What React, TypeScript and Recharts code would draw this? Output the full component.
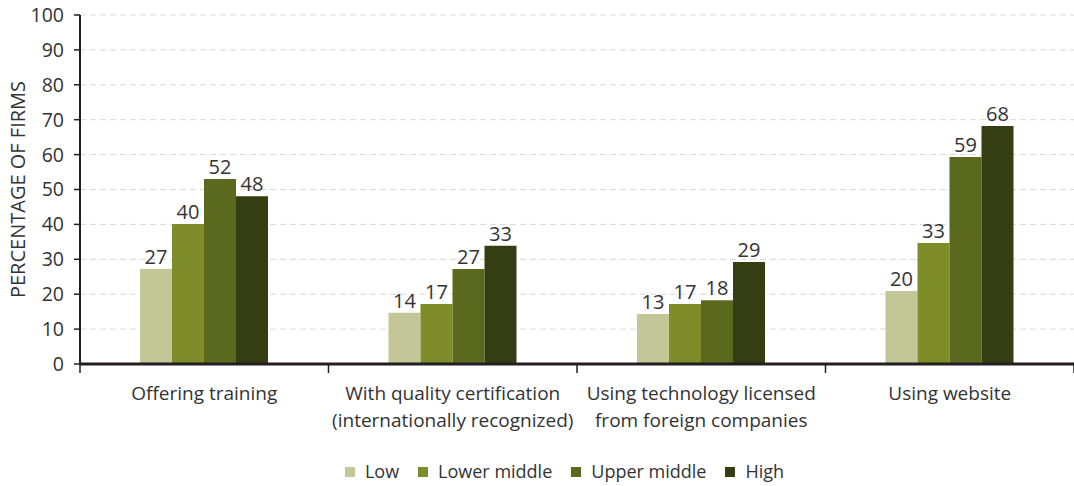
import { BarChart, Bar, XAxis, YAxis, CartesianGrid, Legend, LabelList, Label } from "recharts";

const categories = [
  "Offering training",
  "With quality certification\n(internationally recognized)",
  "Using technology licensed\nfrom foreign companies",
  "Using website",
];

// bar heights as drawn, and the printed labels
const low = [27.2, 14.7, 14.3, 20.9];
const lowerMiddle = [40.1, 17.2, 17.2, 34.7];
const upperMiddle = [53.0, 27.2, 18.3, 59.3];
const high = [48.1, 33.9, 29.2, 68.2];

const lowLabels = [27, 14, 13, 20];
const lowerMiddleLabels = [40, 17, 17, 33];
const upperMiddleLabels = [52, 27, 18, 59];
const highLabels = [48, 33, 29, 68];

const yTicks = [0, 10, 20, 30, 40, 50, 60, 70, 80, 90, 100];

const series = [
  { key: "low", name: "Low", color: "#c3c697" },
  { key: "lowerMiddle", name: "Lower middle", color: "#7e8c29" },
  { key: "upperMiddle", name: "Upper middle", color: "#5b691e" },
  { key: "high", name: "High", color: "#353e12" },
];

const data = categories.map((name, i) => ({
  name,
  low: low[i],
  lowerMiddle: lowerMiddle[i],
  upperMiddle: upperMiddle[i],
  high: high[i],
  lowLabel: lowLabels[i],
  lowerMiddleLabel: lowerMiddleLabels[i],
  upperMiddleLabel: upperMiddleLabels[i],
  highLabel: highLabels[i],
}));

const FONT = "'Open Sans', sans-serif";
const WIDTH = 1074;
const HEIGHT = 486;
const LEFT = 80;
const BAND = (WIDTH - LEFT) / categories.length;

function CategoryTick(props: any) {
  const { x, y, payload, index } = props;
  const lines = String(payload.value).split("\n");
  return (
    <g>
      <line x1={x - BAND / 2} x2={x - BAND / 2} y1={y - 8} y2={y + 1} stroke="#231f20" strokeWidth={1.5} />
      {index === categories.length - 1 && (
        <line x1={x + BAND / 2} x2={x + BAND / 2} y1={y - 8} y2={y + 1} stroke="#231f20" strokeWidth={1.5} />
      )}
      <text x={x} y={y + 28} textAnchor="middle" fill="#333" fontSize={19} fontFamily={FONT}>
        {lines.map((l, i) => (
          <tspan key={i} x={x} dy={i === 0 ? 0 : 27}>
            {l}
          </tspan>
        ))}
      </text>
    </g>
  );
}

function LegendContent() {
  return (
    <div style={{ display: "flex", justifyContent: "center", fontFamily: FONT, fontSize: 18, color: "#333", lineHeight: "23px" }}>
      {series.map((s) => (
        <div key={s.key} style={{ display: "flex", alignItems: "center", marginRight: 19 }}>
          <span style={{ width: 10, height: 10, background: s.color, display: "inline-block", marginRight: 10 }} />
          <span>{s.name}</span>
        </div>
      ))}
    </div>
  );
}

export default function App() {
  return (
    <div style={{ position: "absolute", left: 0, top: 0, background: "#fff" }}>
      <BarChart
        width={WIDTH}
        height={HEIGHT}
        data={data}
        margin={{ top: 15, right: 0, left: 0, bottom: 0 }}
        barSize={32}
        barGap={0}
      >
        <CartesianGrid vertical={false} stroke="#d9d9d9" strokeDasharray="6 4" />
        <XAxis
          dataKey="name"
          height={99}
          axisLine={{ stroke: "#231f20", strokeWidth: 3 }}
          tickLine={false}
          tick={<CategoryTick />}
          interval={0}
        />
        <YAxis
          width={LEFT}
          domain={[0, 100]}
          ticks={yTicks}
          interval={0}
          axisLine={{ stroke: "#231f20", strokeWidth: 2 }}
          tickLine={{ stroke: "#231f20", strokeWidth: 1.5 }}
          tickSize={6}
          tickMargin={10}
          tick={{ fill: "#333", fontSize: 19.5, fontFamily: FONT }}
        >
          <Label
            content={(p: any) => {
              const vb = p.viewBox;
              const cx = 17;
              const cy = vb.y + vb.height / 2;
              return (
                <text
                  x={cx}
                  y={cy}
                  transform={`rotate(-90, ${cx}, ${cy})`}
                  textAnchor="middle"
                  dominantBaseline="central"
                  fill="#333"
                  fontSize={20}
                  fontFamily={FONT}
                >
                  PERCENTAGE OF FIRMS
                </text>
              );
            }}
          />
        </YAxis>
        <Legend
          content={<LegendContent />}
          wrapperStyle={{ top: 460, left: 37, width: WIDTH }}
        />
        {series.map((s) => (
          <Bar key={s.key} dataKey={s.key} name={s.name} fill={s.color} isAnimationActive={false}>
            <LabelList
              dataKey={`${s.key}Label`}
              position="top"
              offset={5}
              fill="#333"
              fontSize={20}
              fontFamily={FONT}
            />
          </Bar>
        ))}
      </BarChart>
    </div>
  );
}
